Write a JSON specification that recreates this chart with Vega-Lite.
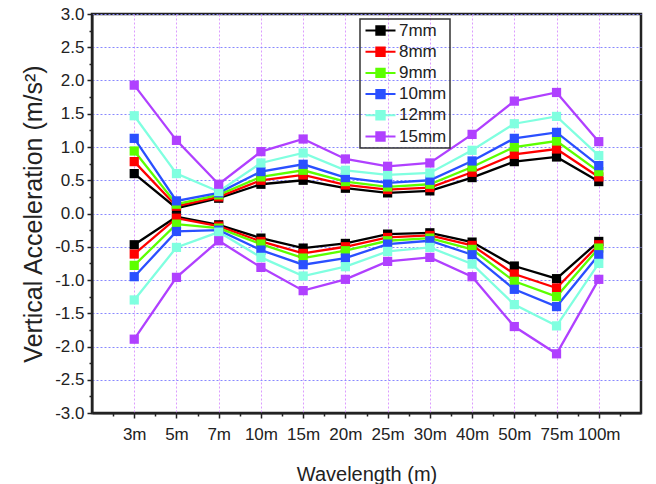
{
  "$schema": "https://vega.github.io/schema/vega-lite/v6.json",
  "width": 549,
  "height": 399,
  "autosize": {"type": "none"},
  "padding": {"left": 92, "top": 14, "right": 15, "bottom": 71},
  "background": "white",
  "config": {
    "font": "Liberation Sans",
    "view": {"stroke": "#222222", "strokeWidth": 2.5},
    "axis": {
      "domainColor": "#222222",
      "domainWidth": 2,
      "tickColor": "#222222",
      "tickWidth": 1.5,
      "labelColor": "#222222",
      "titleColor": "#222222",
      "labelFont": "Liberation Sans",
      "titleFont": "Liberation Sans",
      "titleFontWeight": "normal"
    }
  },
  "datasets": {
    "accel": [
      {"w": "3m", "s": "7mm", "b": "upper", "v": 0.60}, {"w": "5m", "s": "7mm", "b": "upper", "v": 0.08}, {"w": "7m", "s": "7mm", "b": "upper", "v": 0.23}, {"w": "10m", "s": "7mm", "b": "upper", "v": 0.44}, {"w": "15m", "s": "7mm", "b": "upper", "v": 0.50}, {"w": "20m", "s": "7mm", "b": "upper", "v": 0.38}, {"w": "25m", "s": "7mm", "b": "upper", "v": 0.31}, {"w": "30m", "s": "7mm", "b": "upper", "v": 0.34}, {"w": "40m", "s": "7mm", "b": "upper", "v": 0.54}, {"w": "50m", "s": "7mm", "b": "upper", "v": 0.78}, {"w": "75m", "s": "7mm", "b": "upper", "v": 0.85}, {"w": "100m", "s": "7mm", "b": "upper", "v": 0.48},
      {"w": "3m", "s": "7mm", "b": "lower", "v": -0.47}, {"w": "5m", "s": "7mm", "b": "lower", "v": -0.05}, {"w": "7m", "s": "7mm", "b": "lower", "v": -0.17}, {"w": "10m", "s": "7mm", "b": "lower", "v": -0.37}, {"w": "15m", "s": "7mm", "b": "lower", "v": -0.52}, {"w": "20m", "s": "7mm", "b": "lower", "v": -0.45}, {"w": "25m", "s": "7mm", "b": "lower", "v": -0.31}, {"w": "30m", "s": "7mm", "b": "lower", "v": -0.29}, {"w": "40m", "s": "7mm", "b": "lower", "v": -0.43}, {"w": "50m", "s": "7mm", "b": "lower", "v": -0.79}, {"w": "75m", "s": "7mm", "b": "lower", "v": -0.98}, {"w": "100m", "s": "7mm", "b": "lower", "v": -0.42},

      {"w": "3m", "s": "8mm", "b": "upper", "v": 0.78}, {"w": "5m", "s": "8mm", "b": "upper", "v": 0.11}, {"w": "7m", "s": "8mm", "b": "upper", "v": 0.25}, {"w": "10m", "s": "8mm", "b": "upper", "v": 0.50}, {"w": "15m", "s": "8mm", "b": "upper", "v": 0.58}, {"w": "20m", "s": "8mm", "b": "upper", "v": 0.43}, {"w": "25m", "s": "8mm", "b": "upper", "v": 0.36}, {"w": "30m", "s": "8mm", "b": "upper", "v": 0.39}, {"w": "40m", "s": "8mm", "b": "upper", "v": 0.62}, {"w": "50m", "s": "8mm", "b": "upper", "v": 0.89}, {"w": "75m", "s": "8mm", "b": "upper", "v": 0.97}, {"w": "100m", "s": "8mm", "b": "upper", "v": 0.55},
      {"w": "3m", "s": "8mm", "b": "lower", "v": -0.61}, {"w": "5m", "s": "8mm", "b": "lower", "v": -0.07}, {"w": "7m", "s": "8mm", "b": "lower", "v": -0.19}, {"w": "10m", "s": "8mm", "b": "lower", "v": -0.42}, {"w": "15m", "s": "8mm", "b": "lower", "v": -0.60}, {"w": "20m", "s": "8mm", "b": "lower", "v": -0.50}, {"w": "25m", "s": "8mm", "b": "lower", "v": -0.36}, {"w": "30m", "s": "8mm", "b": "lower", "v": -0.33}, {"w": "40m", "s": "8mm", "b": "lower", "v": -0.48}, {"w": "50m", "s": "8mm", "b": "lower", "v": -0.91}, {"w": "75m", "s": "8mm", "b": "lower", "v": -1.12}, {"w": "100m", "s": "8mm", "b": "lower", "v": -0.47},

      {"w": "3m", "s": "9mm", "b": "upper", "v": 0.94}, {"w": "5m", "s": "9mm", "b": "upper", "v": 0.14}, {"w": "7m", "s": "9mm", "b": "upper", "v": 0.28}, {"w": "10m", "s": "9mm", "b": "upper", "v": 0.55}, {"w": "15m", "s": "9mm", "b": "upper", "v": 0.65}, {"w": "20m", "s": "9mm", "b": "upper", "v": 0.48}, {"w": "25m", "s": "9mm", "b": "upper", "v": 0.40}, {"w": "30m", "s": "9mm", "b": "upper", "v": 0.44}, {"w": "40m", "s": "9mm", "b": "upper", "v": 0.70}, {"w": "50m", "s": "9mm", "b": "upper", "v": 1.00}, {"w": "75m", "s": "9mm", "b": "upper", "v": 1.09}, {"w": "100m", "s": "9mm", "b": "upper", "v": 0.63},
      {"w": "3m", "s": "9mm", "b": "lower", "v": -0.78}, {"w": "5m", "s": "9mm", "b": "lower", "v": -0.16}, {"w": "7m", "s": "9mm", "b": "lower", "v": -0.22}, {"w": "10m", "s": "9mm", "b": "lower", "v": -0.46}, {"w": "15m", "s": "9mm", "b": "lower", "v": -0.67}, {"w": "20m", "s": "9mm", "b": "lower", "v": -0.56}, {"w": "25m", "s": "9mm", "b": "lower", "v": -0.41}, {"w": "30m", "s": "9mm", "b": "lower", "v": -0.37}, {"w": "40m", "s": "9mm", "b": "lower", "v": -0.54}, {"w": "50m", "s": "9mm", "b": "lower", "v": -1.02}, {"w": "75m", "s": "9mm", "b": "lower", "v": -1.25}, {"w": "100m", "s": "9mm", "b": "lower", "v": -0.52},

      {"w": "3m", "s": "10mm", "b": "upper", "v": 1.13}, {"w": "5m", "s": "10mm", "b": "upper", "v": 0.19}, {"w": "7m", "s": "10mm", "b": "upper", "v": 0.31}, {"w": "10m", "s": "10mm", "b": "upper", "v": 0.63}, {"w": "15m", "s": "10mm", "b": "upper", "v": 0.74}, {"w": "20m", "s": "10mm", "b": "upper", "v": 0.54}, {"w": "25m", "s": "10mm", "b": "upper", "v": 0.46}, {"w": "30m", "s": "10mm", "b": "upper", "v": 0.50}, {"w": "40m", "s": "10mm", "b": "upper", "v": 0.79}, {"w": "50m", "s": "10mm", "b": "upper", "v": 1.13}, {"w": "75m", "s": "10mm", "b": "upper", "v": 1.22}, {"w": "100m", "s": "10mm", "b": "upper", "v": 0.72},
      {"w": "3m", "s": "10mm", "b": "lower", "v": -0.95}, {"w": "5m", "s": "10mm", "b": "lower", "v": -0.27}, {"w": "7m", "s": "10mm", "b": "lower", "v": -0.25}, {"w": "10m", "s": "10mm", "b": "lower", "v": -0.55}, {"w": "15m", "s": "10mm", "b": "lower", "v": -0.77}, {"w": "20m", "s": "10mm", "b": "lower", "v": -0.67}, {"w": "25m", "s": "10mm", "b": "lower", "v": -0.46}, {"w": "30m", "s": "10mm", "b": "lower", "v": -0.41}, {"w": "40m", "s": "10mm", "b": "lower", "v": -0.62}, {"w": "50m", "s": "10mm", "b": "lower", "v": -1.14}, {"w": "75m", "s": "10mm", "b": "lower", "v": -1.40}, {"w": "100m", "s": "10mm", "b": "lower", "v": -0.62},

      {"w": "3m", "s": "12mm", "b": "upper", "v": 1.47}, {"w": "5m", "s": "12mm", "b": "upper", "v": 0.60}, {"w": "7m", "s": "12mm", "b": "upper", "v": 0.33}, {"w": "10m", "s": "12mm", "b": "upper", "v": 0.76}, {"w": "15m", "s": "12mm", "b": "upper", "v": 0.91}, {"w": "20m", "s": "12mm", "b": "upper", "v": 0.65}, {"w": "25m", "s": "12mm", "b": "upper", "v": 0.58}, {"w": "30m", "s": "12mm", "b": "upper", "v": 0.61}, {"w": "40m", "s": "12mm", "b": "upper", "v": 0.95}, {"w": "50m", "s": "12mm", "b": "upper", "v": 1.35}, {"w": "75m", "s": "12mm", "b": "upper", "v": 1.46}, {"w": "100m", "s": "12mm", "b": "upper", "v": 0.87},
      {"w": "3m", "s": "12mm", "b": "lower", "v": -1.30}, {"w": "5m", "s": "12mm", "b": "lower", "v": -0.51}, {"w": "7m", "s": "12mm", "b": "lower", "v": -0.28}, {"w": "10m", "s": "12mm", "b": "lower", "v": -0.66}, {"w": "15m", "s": "12mm", "b": "lower", "v": -0.94}, {"w": "20m", "s": "12mm", "b": "lower", "v": -0.80}, {"w": "25m", "s": "12mm", "b": "lower", "v": -0.57}, {"w": "30m", "s": "12mm", "b": "lower", "v": -0.51}, {"w": "40m", "s": "12mm", "b": "lower", "v": -0.76}, {"w": "50m", "s": "12mm", "b": "lower", "v": -1.37}, {"w": "75m", "s": "12mm", "b": "lower", "v": -1.69}, {"w": "100m", "s": "12mm", "b": "lower", "v": -0.75},

      {"w": "3m", "s": "15mm", "b": "upper", "v": 1.93}, {"w": "5m", "s": "15mm", "b": "upper", "v": 1.10}, {"w": "7m", "s": "15mm", "b": "upper", "v": 0.44}, {"w": "10m", "s": "15mm", "b": "upper", "v": 0.93}, {"w": "15m", "s": "15mm", "b": "upper", "v": 1.12}, {"w": "20m", "s": "15mm", "b": "upper", "v": 0.82}, {"w": "25m", "s": "15mm", "b": "upper", "v": 0.71}, {"w": "30m", "s": "15mm", "b": "upper", "v": 0.76}, {"w": "40m", "s": "15mm", "b": "upper", "v": 1.19}, {"w": "50m", "s": "15mm", "b": "upper", "v": 1.69}, {"w": "75m", "s": "15mm", "b": "upper", "v": 1.82}, {"w": "100m", "s": "15mm", "b": "upper", "v": 1.08},
      {"w": "3m", "s": "15mm", "b": "lower", "v": -1.89}, {"w": "5m", "s": "15mm", "b": "lower", "v": -0.96}, {"w": "7m", "s": "15mm", "b": "lower", "v": -0.41}, {"w": "10m", "s": "15mm", "b": "lower", "v": -0.81}, {"w": "15m", "s": "15mm", "b": "lower", "v": -1.16}, {"w": "20m", "s": "15mm", "b": "lower", "v": -0.99}, {"w": "25m", "s": "15mm", "b": "lower", "v": -0.72}, {"w": "30m", "s": "15mm", "b": "lower", "v": -0.66}, {"w": "40m", "s": "15mm", "b": "lower", "v": -0.95}, {"w": "50m", "s": "15mm", "b": "lower", "v": -1.70}, {"w": "75m", "s": "15mm", "b": "lower", "v": -2.11}, {"w": "100m", "s": "15mm", "b": "lower", "v": -0.99}
    ]
  },
  "layer": [
    {
      "data": {"name": "accel"},
      "mark": {
        "type": "line",
        "strokeWidth": 2.3,
        "point": {"shape": "square", "filled": true, "size": 85, "opacity": 1}
      },
      "encoding": {
        "x": {
          "field": "w",
          "type": "ordinal",
          "sort": ["3m", "5m", "7m", "10m", "15m", "20m", "25m", "30m", "40m", "50m", "75m", "100m"],
          "scale": {"type": "point", "padding": 1},
          "axis": {
            "orient": "bottom",
            "title": "Wavelength (m)",
            "titleFontSize": 20,
            "titlePadding": 22,
            "labelFontSize": 17,
            "labelAngle": 0,
            "labelPadding": 8,
            "tickSize": 5,
            "grid": true,
            "gridColor": "#dc9cff",
            "gridDash": [2, 2],
            "gridWidth": 1
          }
        },
        "y": {
          "field": "v",
          "type": "quantitative",
          "scale": {"domain": [-3, 3], "nice": false},
          "axis": {
            "orient": "left",
            "title": "Vertical Acceleration (m/s²)",
            "titleFontSize": 25,
            "titlePadding": 8,
            "labelFontSize": 17,
            "labelPadding": 3,
            "tickSize": 5,
            "values": [-3, -2.5, -2, -1.5, -1, -0.5, 0, 0.5, 1, 1.5, 2, 2.5, 3],
            "labelExpr": "replace(format(datum.value, '.1f'), '\u2212', '-')",
            "grid": true,
            "gridColor": "#8888ff",
            "gridDash": [2, 2],
            "gridWidth": 1
          }
        },
        "color": {
          "field": "s",
          "type": "nominal",
          "scale": {
            "domain": ["7mm", "8mm", "9mm", "10mm", "12mm", "15mm"],
            "range": ["#000000", "#ff0000", "#5cff00", "#2a4fff", "#80ffe0", "#b040ff"]
          },
          "legend": {
            "title": null,
            "orient": "none",
            "legendX": 268,
            "legendY": 5,
            "strokeColor": "#333333",
            "padding": 3,
            "labelFontSize": 17,
            "labelColor": "#222222",
            "labelOffset": 10,
            "rowPadding": 3.2,
            "symbolType": "M-2.5,0H2.5M-0.7,-0.7H0.7V0.7H-0.7Z",
            "symbolSize": 144,
            "symbolOffset": 9,
            "symbolStrokeWidth": 2,
            "encode": {
              "legend": {"update": {"strokeWidth": {"value": 1.5}}},
              "symbols": {
                "update": {
                  "stroke": {"scale": "color", "field": "value"},
                  "fill": {"scale": "color", "field": "value"},
                  "opacity": {"value": 1}
                }
              }
            }
          }
        },
        "detail": {"field": "b"}
      }
    },
    {
      "data": {"values": [{}]},
      "mark": {"type": "point", "opacity": 0},
      "encoding": {
        "x": {
          "datum": 0,
          "type": "quantitative",
          "scale": {"domain": [0, 13], "nice": false},
          "axis": {
            "orient": "bottom",
            "title": null,
            "labels": false,
            "grid": false,
            "domain": false,
            "tickSize": 3,
            "values": [0.5, 1.5, 2.5, 3.5, 4.5, 5.5, 6.5, 7.5, 8.5, 9.5, 10.5, 11.5, 12.5]
          }
        },
        "y": {
          "datum": 0,
          "type": "quantitative",
          "scale": {"domain": [-3, 3], "nice": false},
          "axis": {
            "orient": "left",
            "title": null,
            "labels": false,
            "grid": false,
            "domain": false,
            "tickSize": 3,
            "values": [-2.75, -2.25, -1.75, -1.25, -0.75, -0.25, 0.25, 0.75, 1.25, 1.75, 2.25, 2.75]
          }
        }
      }
    }
  ],
  "resolve": {
    "scale": {"x": "independent", "y": "independent"},
    "axis": {"x": "independent", "y": "independent"}
  }
}
